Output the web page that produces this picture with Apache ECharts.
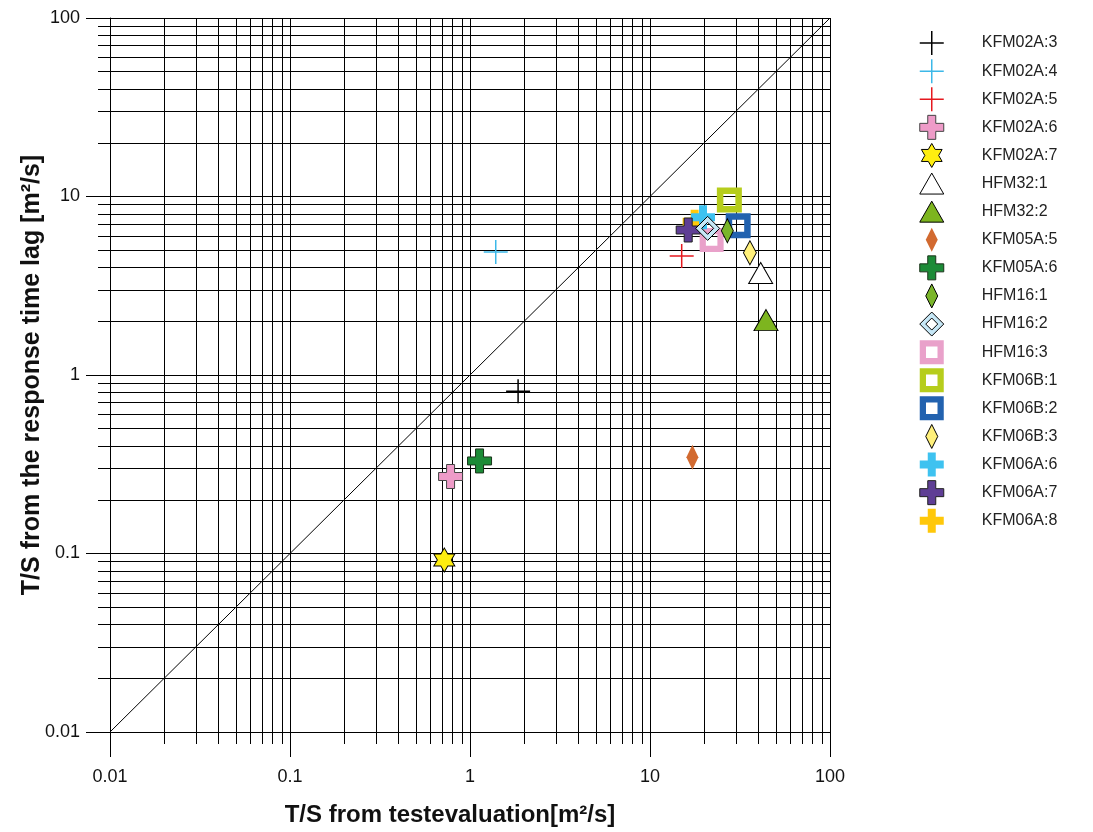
<!DOCTYPE html>
<html><head><meta charset="utf-8">
<script src="https://cdn.jsdelivr.net/npm/echarts@6/dist/echarts.min.js"></script>
<style>html,body{margin:0;padding:0;background:#fff}#c{width:1093px;height:832px}</style>
</head><body><div id="c"></div>
<script>
// ---- data ----
const names = ['KFM02A:3','KFM02A:4','KFM02A:5','KFM02A:6','KFM02A:7','HFM32:1','HFM32:2','KFM05A:5','KFM05A:6','HFM16:1','HFM16:2','HFM16:3','KFM06B:1','KFM06B:2','KFM06B:3','KFM06A:6','KFM06A:7','KFM06A:8'];
const tsTest = [1.85, 1.39, 15.0, 0.78, 0.72, 41.2, 44.1, 17.2, 1.13, 26.9, 20.9, 22.0, 27.6, 30.9, 35.9, 19.7, 16.3, 17.7];
const tsLag  = [0.81, 4.89, 4.64, 0.27, 0.092, 3.73, 2.03, 0.346, 0.33, 6.43, 6.63, 5.71, 9.56, 6.86, 4.84, 7.65, 6.49, 7.22];
const oneToOne = [0.01, 100];
const tickLabels = ['0.01', '0.1', '1', '10', '100'];

// ---- styles ----
const FONT = 'Liberation Sans, Arial, sans-serif';
const P_THIN = 'path://M12,0L12,24M0,12L24,12';
const P_CROSS = 'path://M8,0L16,0L16,8L24,8L24,16L16,16L16,24L8,24L8,16L0,16L0,8L8,8Z';
const P_STAR = 'path://M12,0L15.46,6L22.39,6L18.93,12L22.39,18L15.46,18L12,24L8.54,18L1.61,18L5.07,12L1.61,6L8.54,6Z';
const P_NDIA = 'path://M6,0L12,12L6,24L0,12Z';
const P_DDIA = 'path://M12,0L24,12L12,24L0,12ZM12,6L6,12L12,18L18,12Z';
const P_SQ = 'path://M0,0L25,0L25,25L0,25ZM6.5,6.5L6.5,18.5L18.5,18.5L18.5,6.5Z';
const P_TRI = 'path://M12,0L24,21L0,21Z';

const styles = [
  {s:P_THIN, z:[24,24], c:'transparent', b:'#000', w:1.5},
  {s:P_THIN, z:[24,24], c:'transparent', b:'#3CB8E8', w:1.5},
  {s:P_THIN, z:[24,24], c:'transparent', b:'#E5191F', w:1.5},
  {s:P_CROSS, z:[24,24], c:'#EE9BC8', b:'#444', w:1},
  {s:P_STAR, z:[21,24], c:'#FFEE10', b:'#000', w:1},
  {s:P_TRI, z:[24,21], c:'#FFFFFF', b:'#000', w:1},
  {s:P_TRI, z:[24,21], c:'#7DB51F', b:'#000', w:1},
  {s:P_NDIA, z:[12,25], c:'#D26A30', b:'transparent', w:0},
  {s:P_CROSS, z:[24,24], c:'#1C8B37', b:'#1A331A', w:1},
  {s:P_NDIA, z:[12,24], c:'#7AB52A', b:'#000', w:1, zz:4},
  {s:P_DDIA, z:[24,24], c:'#C6E7F6', b:'#000', w:1, zz:4},
  {s:P_SQ, z:[24,24], c:'#E9A1CA', b:'transparent', w:0},
  {s:P_SQ, z:[25,25], c:'#B6CD1C', b:'transparent', w:0},
  {s:P_SQ, z:[25,25], c:'#2262AF', b:'transparent', w:0},
  {s:P_NDIA, z:[13,24], c:'#FFF07A', b:'#000', w:1},
  {s:P_CROSS, z:[24,24], c:'#3EC2F0', b:'transparent', w:0},
  {s:P_CROSS, z:[24,24], c:'#5F3E95', b:'#222', w:1},
  {s:P_CROSS, z:[24,24], c:'#FFC80A', b:'transparent', w:0, zz:1}
];

const series = names.map((n, i) => ({
  type: 'scatter', name: n, silent: true, z: styles[i].zz || 2,
  symbol: styles[i].s, symbolSize: styles[i].z,
  itemStyle: {color: styles[i].c, borderColor: styles[i].b, borderWidth: styles[i].w, opacity: 1},
  emphasis: {disabled: true},
  data: [[tsTest[i], tsLag[i]]]
}));
series.push({
  type: 'line', name: '1:1', silent: true, z: 1, showSymbol: false, symbol: 'none',
  lineStyle: {color: '#000', width: 1}, data: oneToOne.map(v => [v, v])
});

const fmt = v => tickLabels[Math.round(Math.log10(v)) + 2];
function axis(isX) {
  return {
    type: 'log', logBase: 10, min: 0.01, max: 100, splitNumber: 4,
    name: isX ? 'T/S from testevaluation[m²/s]' : 'T/S from the response time lag [m²/s]',
    nameLocation: 'middle', nameGap: isX ? 71 : 65, nameMoveOverlap: false,
    nameTextStyle: {fontFamily: FONT, fontSize: isX ? 24 : 25, fontWeight: 'bold', color: '#111',
      padding: isX ? [0, 40, 0, 0] : 0},
    axisLine: {show: true, onZero: false, lineStyle: {color: '#000', width: 1}},
    axisTick: {show: true, length: isX ? 25 : 24, lineStyle: {color: '#000', width: 1}},
    minorTick: {show: true, splitNumber: 9, length: 12, lineStyle: {color: '#000', width: 1}},
    splitLine: {show: true, lineStyle: {color: '#000', width: 1}},
    minorSplitLine: {show: true, lineStyle: {color: '#000', width: 1}},
    axisLabel: {margin: isX ? 36 : 30, fontSize: 18, color: '#111', fontFamily: FONT, formatter: fmt}
  };
}

const chart = echarts.init(document.getElementById('c'), null, {renderer: 'canvas'});
chart.setOption({
  animation: false,
  backgroundColor: '#fff',
  grid: {left: 110, right: 263, top: 18, bottom: 100, containLabel: false},
  xAxis: axis(true),
  yAxis: axis(false),
  legend: {
    show: true, orient: 'vertical', left: 914, top: 24, selectedMode: false,
    itemWidth: 24, itemHeight: 24, itemGap: 0,
    textStyle: {fontFamily: FONT, fontSize: 16, color: '#222', lineHeight: 28.1, padding: [0, 0, 0, 33]},
    data: names.map((n, i) => ({
      name: n, icon: styles[i].s,
      itemStyle: {color: styles[i].c, borderColor: styles[i].b, borderWidth: styles[i].w}
    }))
  },
  series: series
});
</script>
</body></html>
